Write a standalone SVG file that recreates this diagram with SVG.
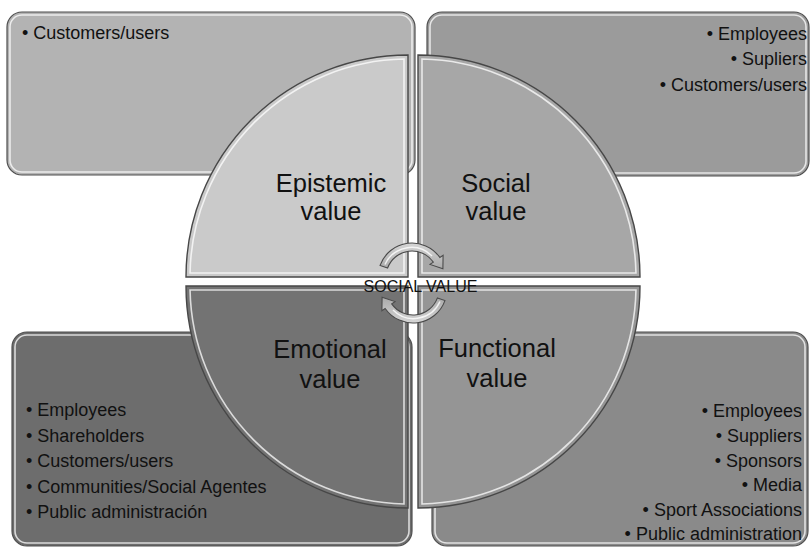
<svg xmlns="http://www.w3.org/2000/svg" width="810" height="547" viewBox="0 0 810 547">
  <style>
    .box { stroke: #4f4f4f; stroke-width: 1.2; }
    .quad { stroke: #474747; stroke-width: 1.4; }
    .gloss { fill: none; stroke: #ffffff; stroke-opacity: 0.75; stroke-width: 1.6; }
    .item { font-family: "Liberation Sans", Arial, sans-serif; font-size: 18px; fill: #111111; }
    .head { font-family: "Liberation Sans", Arial, sans-serif; font-size: 25.5px; fill: #111111; text-anchor: middle; }
    .end { text-anchor: end; }
    .hub { font-family: "Liberation Sans", Arial, sans-serif; font-size: 16px; fill: #111111; text-anchor: middle; }
    .cycle { fill: url(#arrowFill); stroke: #4a4a4a; stroke-width: 1.1; }
  </style>
  <defs>
    <linearGradient id="arrowFill" x1="0" y1="0" x2="0" y2="1">
      <stop offset="0" stop-color="#d6d6d6"/>
      <stop offset="1" stop-color="#a9a9a9"/>
    </linearGradient>
    <!-- curved cycle arrow, pivot at (412,277) -->
    <g id="cycleArrow">
      <path class="cycle" d="M387.57,268.1 L380.05,265.4 A34,34 0 0 1 439.85,257.5 L443.1,255.2 L442.9,268.8 L430,264.4 L433.3,262.1 A26,26 0 0 0 387.57,268.1 Z"/>
      <path d="M385,264.5 A29,29 0 0 1 432,256" fill="none" stroke="#ffffff" stroke-opacity="0.8" stroke-width="1.5"/>
    </g>
  </defs>

  <rect width="810" height="547" fill="#ffffff"/>

  <!-- stakeholder boxes -->
  <g id="box-epistemic">
    <rect class="box" x="7" y="12" width="408" height="163" rx="15" fill="#b3b3b3"/>
    <rect class="gloss" x="10" y="15" width="402" height="157" rx="12"/>
    <text class="item" x="22" y="39">• Customers/users</text>
  </g>
  <g id="box-social">
    <rect class="box" x="427" y="12" width="382" height="164" rx="15" fill="#9b9b9b"/>
    <rect class="gloss" x="430" y="15" width="376" height="158" rx="12"/>
    <text class="item end" x="807" y="40">• Employees</text>
    <text class="item end" x="807" y="65">• Supliers</text>
    <text class="item end" x="807" y="91">• Customers/users</text>
  </g>
  <g id="box-emotional">
    <rect class="box" x="12" y="332" width="400" height="214" rx="15" fill="#6d6d6d"/>
    <rect class="gloss" x="15" y="335" width="394" height="208" rx="12"/>
    <text class="item" x="26" y="416">• Employees</text>
    <text class="item" x="26" y="441.5">• Shareholders</text>
    <text class="item" x="26" y="467">• Customers/users</text>
    <text class="item" x="26" y="492.5">• Communities/Social Agentes</text>
    <text class="item" x="26" y="518">• Public administración</text>
  </g>
  <g id="box-functional">
    <rect class="box" x="432" y="332" width="376" height="214" rx="15" fill="#8a8a8a"/>
    <rect class="gloss" x="435" y="335" width="370" height="208" rx="12"/>
    <text class="item end" x="802" y="417">• Employees</text>
    <text class="item end" x="802" y="442">• Suppliers</text>
    <text class="item end" x="802" y="467">• Sponsors</text>
    <text class="item end" x="802" y="491">• Media</text>
    <text class="item end" x="802" y="516">• Sport Associations</text>
    <text class="item end" x="802" y="540">• Public administration</text>
  </g>

  <!-- value quadrants -->
  <g id="quad-epistemic">
    <path class="quad" d="M408,277 H186 A222,222 0 0 1 408,55 Z" fill="#cacaca"/>
    <path class="gloss" d="M404,273 H190.04 A218,218 0 0 1 404,59.04 Z"/>
    <text class="head" x="331" y="192">Epistemic</text>
    <text class="head" x="331" y="220">value</text>
  </g>
  <g id="quad-social">
    <path class="quad" d="M418,277 V55 A222,222 0 0 1 640,277 Z" fill="#a7a7a7"/>
    <path class="gloss" d="M422,273 V59.04 A218,218 0 0 1 635.96,273 Z"/>
    <text class="head" x="496" y="192">Social</text>
    <text class="head" x="496" y="220">value</text>
  </g>
  <g id="quad-emotional">
    <path class="quad" d="M408,286 V508 A222,222 0 0 1 186,286 Z" fill="#737373"/>
    <path class="gloss" d="M404,290 V503.96 A218,218 0 0 1 190.04,290 Z"/>
    <text class="head" x="330" y="358">Emotional</text>
    <text class="head" x="330" y="388">value</text>
  </g>
  <g id="quad-functional">
    <path class="quad" d="M418,286 H640 A222,222 0 0 1 418,508 Z" fill="#959595"/>
    <path class="gloss" d="M422,290 H635.96 A218,218 0 0 1 422,503.96 Z"/>
    <text class="head" x="497" y="357">Functional</text>
    <text class="head" x="497" y="387">value</text>
  </g>

  <!-- cycle arrows around the hub -->
  <g id="connectors">
    <use href="#cycleArrow"/>
    <use href="#cycleArrow" transform="rotate(180 412.5 283)"/>
  </g>

  <g id="hub">
    <text class="hub" x="420.5" y="292">SOCIAL VALUE</text>
  </g>
</svg>
